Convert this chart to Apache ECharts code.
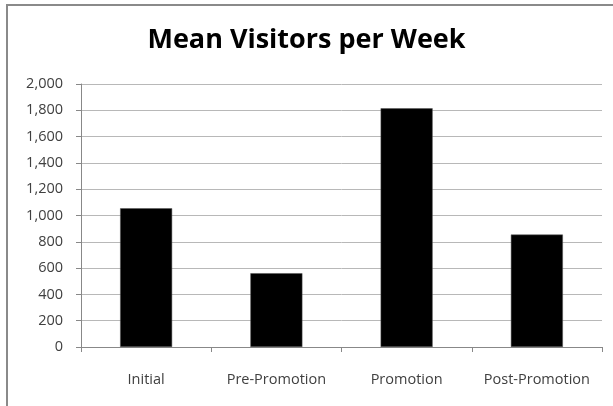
<!DOCTYPE html>
<html>
<head>
<meta charset="utf-8">
<script src="https://cdn.jsdelivr.net/npm/echarts@6/dist/echarts.min.js"></script>
<style>html,body{margin:0;padding:0;background:#fff;}#c{width:613px;height:406px;}</style>
</head>
<body>
<div id="c"></div>
<script>
var categories = ["Initial", "Pre-Promotion", "Promotion", "Post-Promotion"];
var meanVisitors = [1055, 561, 1815, 855];
var yTicks = { min: 0, max: 2000, interval: 200 };
var titleText = "Mean Visitors per Week";

var chart = echarts.init(document.getElementById('c'), null, { renderer: 'canvas' });
chart.setOption({
  animation: false,
  backgroundColor: '#ffffff',
  title: {
    text: titleText,
    left: 'center',
    top: 22,
    textStyle: { fontFamily: 'Open Sans', fontWeight: 'bold', fontSize: 27, color: '#000' }
  },
  graphic: [{
    type: 'rect',
    shape: { x: 7, y: 5, width: 640, height: 440 },
    style: { fill: 'none', stroke: '#8a8a8a', lineWidth: 2 },
    silent: true
  }],
  grid: { left: 81, right: 11, top: 84, bottom: 59 },
  xAxis: {
    type: 'category',
    data: categories,
    axisLine: { lineStyle: { color: '#888888', width: 1 } },
    axisTick: { show: true, length: 5, lineStyle: { color: '#888888' } },
    axisLabel: { interval: 0, margin: 25, fontFamily: 'Open Sans', fontSize: 14.5, color: '#404040' }
  },
  yAxis: {
    type: 'value',
    min: yTicks.min,
    max: yTicks.max,
    interval: yTicks.interval,
    axisLine: { show: true, lineStyle: { color: '#888888', width: 1 } },
    axisTick: { show: true, length: 5, lineStyle: { color: '#888888' } },
    splitLine: { show: true, lineStyle: { color: '#b8b8b8', width: 1 } },
    axisLabel: {
      margin: 18,
      fontFamily: 'Open Sans', fontSize: 14.5, color: '#404040',
      formatter: function (v) { return v.toLocaleString('en-US'); }
    }
  },
  series: [{
    type: 'bar',
    data: meanVisitors,
    barWidth: 52,
    itemStyle: { color: '#000000', borderColor: '#555555', borderWidth: 0.5 }
  }]
});
</script>
</body>
</html>
